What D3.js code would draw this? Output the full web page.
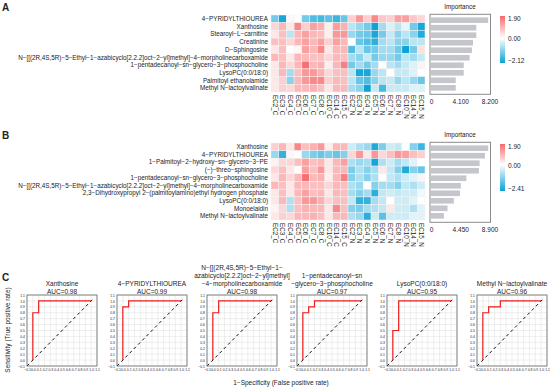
<!DOCTYPE html>
<html lang="en">
<head>
<meta charset="utf-8">
<title>Heatmaps, importance and ROC</title>
<script src="https://cdn.jsdelivr.net/npm/d3@7"></script>
<style>
  body { margin: 0; background: #fff; }
  text { font-family: "Liberation Sans", Arial, sans-serif; fill: #222; }
</style>
</head>
<body>
<script>
// ---- data ----
var cols = ["EC2_C","EC3_C","EC4_C","EC5_C","EC6_C","EC7_C","EC8_C","EC10_C","EC14_C","EC15_C",
            "EC2_N","EC3_N","EC4_N","EC5_N","EC6_N","EC7_N","EC8_N","EC10_N","EC14_N","EC15_N"];

var rowsA = ["4−PYRIDYLTHIOUREA","Xanthosine","Stearoyl−L−carnitine","Creatinine","D−Sphingosine",
  "N−[[(2R,4S,5R)−5−Ethyl−1−azabicyclo[2.2.2]oct−2−yl]methyl]−4−morpholinecarboxamide",
  "1−pentadecanoyl−sn−glycero−3−phosphocholine","LysoPC(0:0/18:0)","Palmitoyl ethanolamide","Methyl N−lactoylvalinate"];
var valsA = [
  [-1.2,-2.0,0.1,0.0,-1.2,-1.5,-1.6,-1.4,-1.7,-1.3, 0.6,1.3,0.6,1.5,0.7,0.6,1.2,1.2,0.7,0.5],
  [0.5,0.9,0.3,1.5,0.6,1.2,1.0,0.2,1.2,1.0, -0.6,-0.9,-1.2,-2.1,-0.8,-0.3,-0.6,-0.2,-1.2,-2.0],
  [0.3,0.8,-0.6,0.9,1.2,0.9,0.8,0.2,1.3,1.3, -0.9,-1.2,-1.3,-2.0,-1.2,-0.5,-1.0,-0.6,-1.0,-1.9],
  [0.8,0.8,0.5,0.9,1.2,0.9,1.2,0.6,1.2,0.9, 0.0,-1.3,-1.5,-1.8,-0.8,-0.6,-1.0,-1.0,-0.6,-0.6],
  [0.3,0.8,0.0,0.1,1.2,0.9,1.5,0.3,0.9,0.9, -1.5,-0.6,-1.3,-1.2,-0.8,-0.8,-1.2,-2.1,-1.2,0.4],
  [0.9,0.8,0.3,0.9,0.9,0.8,0.8,0.5,0.9,0.8, -0.8,-1.0,-0.5,-1.2,-0.9,-0.9,-1.2,-0.6,-0.8,-0.5],
  [0.3,0.9,0.5,0.9,1.8,0.9,1.0,0.2,0.9,1.6, -1.2,-0.8,-1.2,-0.8,0.0,-0.6,-0.8,-0.5,-0.3,0.15],
  [0.3,0.9,-0.8,0.8,1.3,1.3,1.0,0.5,0.8,0.8, -0.6,-2.0,-2.0,-0.9,-0.6,0.0,-0.5,-0.5,-0.3,0.0],
  [0.3,0.6,-1.0,0.9,1.3,1.5,1.5,0.6,0.9,0.8, -0.6,-1.3,-1.5,-1.0,-0.6,-0.5,-0.9,-0.6,-0.9,-1.3],
  [0.3,0.6,0.5,0.9,0.9,1.0,0.8,0.3,0.9,0.9, -0.8,-1.0,-2.1,-0.5,-1.6,-0.5,-0.5,-0.5,-0.3,-0.3]
];
var impA = [8.01, 6.35, 6.35, 5.88, 5.74, 5.42, 4.59, 4.59, 3.47, 3.47];
var impTicksA = [0, 4.1, 8.2];
var rangeA = [-2.12, 1.90];

var rowsB = ["Xanthosine","4−PYRIDYLTHIOUREA","1−Palmitoyl−2−hydroxy−sn−glycero−3−PE","(−)−threo−sphingosine",
  "1−pentadecanoyl−sn−glycero−3−phosphocholine",
  "N−[[(2R,4S,5R)−5−Ethyl−1−azabicyclo[2.2.2]oct−2−yl]methyl]−4−morpholinecarboxamide",
  "2,3−Dihydroxypropyl 2−(palmitoylamino)ethyl hydrogen phosphate","LysoPC(0:0/18:0)","Monoelaidin","Methyl N−lactoylvalinate"];
var valsB = [
  [0.6,0.9,0.3,1.5,0.8,1.0,1.3,0.2,0.9,0.9, -0.5,-0.8,-1.0,-2.2,-1.3,-0.5,-0.6,0.0,-1.2,-1.9],
  [-1.0,-2.0,0.1,0.0,-1.0,-1.3,-1.5,-1.3,-1.5,-1.2, 0.5,1.3,0.3,1.3,0.5,0.8,1.3,1.2,0.8,0.6],
  [0.15,0.5,0.5,0.8,1.2,0.8,0.9,0.3,0.9,1.2, -0.8,-1.0,-0.9,-2.3,-0.8,-0.5,-0.9,-0.6,-0.3,0.0],
  [0.5,0.8,0.3,0.0,1.2,0.8,1.3,0.3,0.9,0.9, -1.3,-0.8,-1.2,-0.9,0.3,-0.6,-1.2,-2.2,-1.2,-1.5],
  [0.3,0.9,0.5,0.9,1.8,0.9,1.0,0.2,0.9,1.6, -1.2,-0.8,-1.2,-0.8,0.0,-0.6,-0.8,-0.5,-0.3,0.15],
  [0.9,0.8,0.3,0.9,0.9,0.8,0.8,0.5,0.9,0.8, -0.8,-1.0,0.0,-1.2,-0.9,-0.9,-1.2,-0.6,-0.8,-0.5],
  [0.3,0.8,0.3,0.9,1.2,0.8,0.9,0.3,0.9,0.8, -0.9,-1.2,-0.9,-2.1,-0.6,-0.5,-0.6,-0.5,-0.5,-0.15],
  [0.3,0.9,-0.8,0.8,1.3,1.3,1.0,0.5,0.8,0.8, -0.6,-2.0,-2.0,-0.9,-0.6,0.0,-0.5,-0.5,-0.3,0.0],
  [0.15,0.5,-0.8,0.8,1.0,0.9,0.9,0.3,1.5,0.8, -1.2,-1.3,-0.9,-0.8,-0.6,0.3,-0.5,-0.5,-0.8,-0.3],
  [0.3,0.6,0.5,0.9,0.9,1.0,0.8,0.3,0.9,0.9, -0.8,-1.0,-2.1,-0.5,-1.6,-0.5,-0.5,-0.5,-0.3,-0.3]
];
var impB = [8.70, 8.20, 7.39, 7.29, 5.38, 4.53, 4.42, 3.47, 2.51, 1.96];
var impTicksB = [0, 4.45, 8.9];
var rangeB = [-2.41, 1.90];

// ROC panels
var rocTitles = [
  ["Xanthosine"],
  ["4−PYRIDYLTHIOUREA"],
  ["N−[[(2R,4S,5R)−5−Ethyl−1−","azabicyclo[2.2.2]oct−2−yl]methyl]","−4−morpholinecarboxamide"],
  ["1−pentadecanoyl−sn","−glycero−3−phosphocholine"],
  ["LysoPC(0:0/18:0)"],
  ["Methyl N−lactoylvalinate"]
];
var rocAUC = ["0.98","0.99","0.98","0.97","0.95","0.96"];
var rocFpr = [
  [0,0,0.1,0.1,1],
  [0,0,0.1,0.1,1],
  [0,0,0.1,0.1,1],
  [0,0,0.1,0.1,0.2,0.2,1],
  [0,0,0.1,0.1,1],
  [0,0,0.1,0.1,0.3,0.3,1]
];
var rocTpr = [
  [0,0.8,0.8,1,1],
  [0,0.9,0.9,1,1],
  [0,0.8,0.8,1,1],
  [0,0.8,0.8,0.9,0.9,1,1],
  [0,0.5,0.5,1,1],
  [0,0.8,0.8,0.9,0.9,1,1]
];
var rocTicks = [-0.1,0,0.1,0.2,0.3,0.4,0.5,0.6,0.7,0.8,0.9,1.0,1.1];

// ---- drawing ----
var svg = d3.select("body").append("svg")
  .attr("width", 550).attr("height", 388);
var defs = svg.append("defs");

var blue = "#0aa2d6", red = "#f8686a";

function drawHeat(id, top, rows, vals, imp, impTicks, range) {
  var g = svg.append("g");
  var x = d3.scaleBand().domain(cols).range([271, 425]);
  var y = d3.scaleBand().domain(rows).range([top, top + 77]);
  var color = d3.scaleLinear().domain([range[0], 0, range[1]]).range([blue, "#ffffff", red]);

  rows.forEach(function(r, i) {
    g.selectAll(null)
      .data(vals[i])
      .enter().append("rect")
      .attr("x", function(d, j) { return x(cols[j]); })
      .attr("y", y(r))
      .attr("width", x.bandwidth())
      .attr("height", y.bandwidth())
      .attr("fill", function(d) { return color(d); })
      .attr("stroke", "#f2f2f2")
      .attr("stroke-width", 0.5);
  });

  // row labels
  g.selectAll(".rl").data(rows).enter().append("text")
    .attr("x", 268)
    .attr("y", function(d) { return y(d) + y.bandwidth() / 2; })
    .attr("dy", "0.35em")
    .attr("text-anchor", "end")
    .attr("font-size", 6.3)
    .text(function(d) { return d; });

  // column labels
  g.selectAll(".cl").data(cols).enter().append("text")
    .attr("transform", function(d) {
      return "translate(" + (x(d) + x.bandwidth() / 2) + "," + (top + 80) + ") rotate(90)";
    })
    .attr("dy", "0.35em")
    .attr("font-size", 6.3)
    .text(function(d) { return d; });

  // importance bars
  var xi = d3.scaleLinear().domain([0, impTicks[2]]).range([431, 489.5]);
  var yi = d3.scaleBand().domain(d3.range(rows.length)).range([top + 0.5, top + 77.5]).padding(0.25);
  g.append("rect")
    .attr("x", 430).attr("y", top - 0.7)
    .attr("width", 60.5).attr("height", 80)
    .attr("fill", "none").attr("stroke", "#8a8a8a").attr("stroke-width", 1);
  g.selectAll(".bar").data(imp).enter().append("rect")
    .attr("x", xi(0))
    .attr("y", function(d, i) { return yi(i); })
    .attr("width", function(d) { return xi(d) - xi(0); })
    .attr("height", yi.bandwidth())
    .attr("fill", "#c5c5cc");
  g.append("text")
    .attr("x", 460).attr("y", top - 6)
    .attr("text-anchor", "middle").attr("font-size", 6.3)
    .text("Importance");
  var ax = g.append("g")
    .attr("transform", "translate(0," + (top + 80) + ")")
    .call(d3.axisBottom(xi).tickValues(impTicks).tickSize(0).tickPadding(4)
      .tickFormat(function(d) { return d === 0 ? "0" : d3.format(".3f")(d); }));
  ax.select(".domain").remove();
  ax.selectAll("text").attr("font-size", 6.5).attr("font-family", null);

  // colour bar
  var gy = d3.scaleLinear().domain([range[1], range[0]]).range([top + 1, top + 48]);
  var grad = defs.append("linearGradient").attr("id", id)
    .attr("x1", 0).attr("y1", 0).attr("x2", 0).attr("y2", 1);
  grad.selectAll("stop").data([range[1], 0, range[0]]).enter().append("stop")
    .attr("offset", function(d) { return (gy(d) - gy(range[1])) / (gy(range[0]) - gy(range[1])); })
    .attr("stop-color", function(d) { return color(d); });
  g.append("rect")
    .attr("x", 500).attr("y", gy(range[1]))
    .attr("width", 5).attr("height", gy(range[0]) - gy(range[1]))
    .attr("fill", "url(#" + id + ")");
  var lab = d3.scaleLinear().domain([range[1], range[0]]).range([top + 3.5, top + 46]);
  g.selectAll(".cbl").data([range[1], 0, range[0]]).enter().append("text")
    .attr("x", 508)
    .attr("y", function(d) { return lab(d); })
    .attr("dy", "0.35em")
    .attr("font-size", 6.5)
    .text(function(d) { return d3.format(".2f")(d); });
}

drawHeat("gA", 15, rowsA, valsA, impA, impTicksA, rangeA);
drawHeat("gB", 143, rowsB, valsB, impB, impTicksB, rangeB);

// panel letters
[["A", 10.5], ["B", 138.5], ["C", 280.5]].forEach(function(p) {
  svg.append("text").attr("x", 2).attr("y", p[1])
    .attr("font-size", 10).attr("font-weight", "bold").text(p[0]);
});

// ROC curves
rocTitles.forEach(function(title, i) {
  var x0 = 27 + 90 * i;
  var g = svg.append("g");
  var x = d3.scaleLinear().domain([-0.1, 1.1]).range([x0, x0 + 70]);
  var y = d3.scaleLinear().domain([-0.1, 1.1]).range([366, 295]);

  g.selectAll(".gx").data(rocTicks).enter().append("line")
    .attr("x1", function(d) { return x(d); }).attr("x2", function(d) { return x(d); })
    .attr("y1", y(-0.1)).attr("y2", y(1.1))
    .attr("stroke", "#dcdcdc").attr("stroke-width", 0.5);
  g.selectAll(".gy").data(rocTicks).enter().append("line")
    .attr("y1", function(d) { return y(d); }).attr("y2", function(d) { return y(d); })
    .attr("x1", x(-0.1)).attr("x2", x(1.1))
    .attr("stroke", "#dcdcdc").attr("stroke-width", 0.5);

  var fmt = d3.format(".1f");
  var axL = g.append("g").attr("transform", "translate(" + x0 + ",0)")
    .call(d3.axisLeft(y).tickValues(rocTicks).tickSize(0).tickPadding(2).tickFormat(fmt));
  axL.select(".domain").remove();
  axL.selectAll("text").attr("font-size", 3.4).attr("font-family", null);
  var axB = g.append("g").attr("transform", "translate(0,366)")
    .call(d3.axisBottom(x).tickValues(rocTicks).tickSize(0).tickPadding(3).tickFormat(fmt));
  axB.select(".domain").remove();
  axB.selectAll("text").attr("font-size", 3.4).attr("font-family", null);

  g.append("line")
    .attr("x1", x(-0.1)).attr("y1", y(-0.1))
    .attr("x2", x(1.05)).attr("y2", y(1.05))
    .attr("stroke", "#111").attr("stroke-width", 1)
    .attr("stroke-dasharray", "3,3");

  var pts = rocFpr[i].map(function(f, k) { return [f, rocTpr[i][k]]; });
  g.append("path")
    .attr("d", d3.line().x(function(d) { return x(d[0]); }).y(function(d) { return y(d[1]); })(pts))
    .attr("fill", "none").attr("stroke", "#ee1c1c").attr("stroke-width", 1.2);

  g.append("rect")
    .attr("x", x0).attr("y", 295).attr("width", 70).attr("height", 71)
    .attr("fill", "none").attr("stroke", "#666").attr("stroke-width", 0.8);

  var lines = title.concat(["AUC=" + rocAUC[i]]);
  g.selectAll(".tt").data(lines).enter().append("text")
    .attr("x", x0 + 35)
    .attr("y", function(d, k) { return 293.5 - (lines.length - 1 - k) * 8; })
    .attr("text-anchor", "middle")
    .attr("font-size", 6.5)
    .text(function(d) { return d; });
});

svg.append("text")
  .attr("transform", "translate(10,330) rotate(-90)")
  .attr("text-anchor", "middle").attr("font-size", 6.5)
  .text("Sensitivity (True positive rate)");
svg.append("text")
  .attr("x", 281).attr("y", 385)
  .attr("text-anchor", "middle").attr("font-size", 6.5)
  .text("1−Specificity (False positive rate)");
</script>
</body>
</html>
